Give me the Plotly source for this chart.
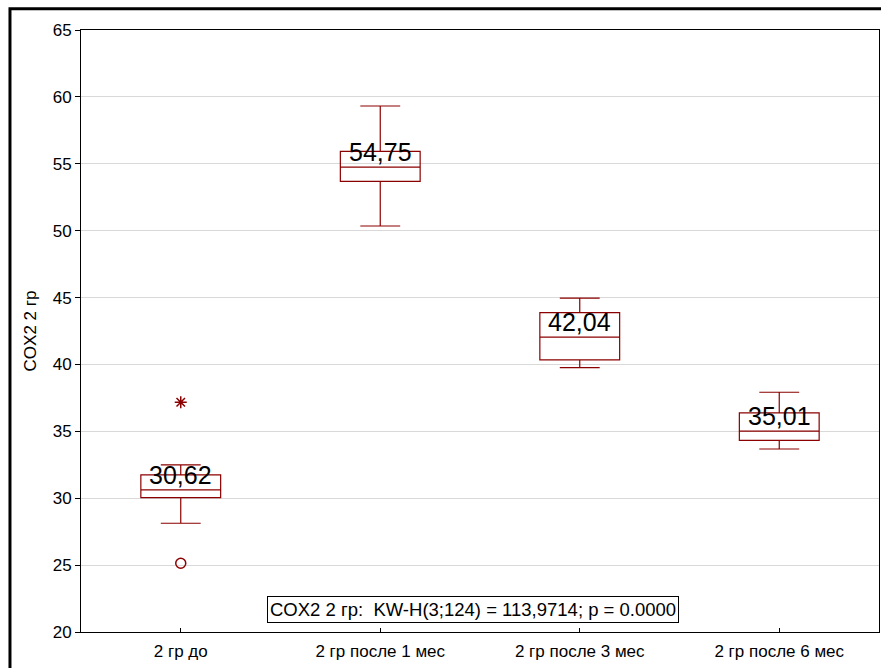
import plotly.graph_objects as go

# Groups and box statistics (COX2, group 2)
categories = ["2 гр до", "2 гр после 1 мес", "2 гр после 3 мес", "2 гр после 6 мес"]
medians = [30.62, 54.75, 42.04, 35.01]
q1 = [30.04, 53.69, 40.34, 34.33]
q3 = [31.74, 55.93, 43.87, 36.38]
whisker_low = [28.13, 50.35, 39.76, 33.68]
whisker_high = [32.49, 59.32, 44.95, 37.92]

# Points beyond the whiskers
outlier_x = ["2 гр до"]
outlier_y = [25.14]
extreme_x = ["2 гр до"]
extreme_y = [37.18]

y_ticks = [20, 25, 30, 35, 40, 45, 50, 55, 60, 65]
stat_text = "COX2 2 гр:  KW-H(3;124) = 113,9714; p = 0.0000"
y_title = "COX2 2 гр"

BOX_COLOR = "#8b0000"
FONT = "Arial, Liberation Sans, sans-serif"

fig = go.Figure()

fig.add_trace(go.Box(
    x=categories,
    q1=q1, median=medians, q3=q3,
    lowerfence=whisker_low, upperfence=whisker_high,
    boxpoints=False,
    line=dict(color=BOX_COLOR, width=1.2),
    fillcolor="rgba(0,0,0,0)",
    width=0.4,
    whiskerwidth=0.5,
    showlegend=False,
    hoverinfo="skip",
))

fig.add_trace(go.Scatter(
    x=outlier_x, y=outlier_y, mode="markers",
    marker=dict(symbol="circle-open", size=10, color=BOX_COLOR,
                line=dict(width=1.5, color=BOX_COLOR)),
    showlegend=False,
))
fig.add_trace(go.Scatter(
    x=extreme_x, y=extreme_y, mode="markers",
    marker=dict(symbol="asterisk-open", size=10, color=BOX_COLOR,
                line=dict(width=1.5, color=BOX_COLOR)),
    showlegend=False,
))

# Median value labels above the median line
for cat, med in zip(categories, medians):
    fig.add_annotation(
        x=cat, y=med, xref="x", yref="y",
        text=f"{med:.2f}".replace(".", ","),
        showarrow=False, yanchor="middle", yshift=15,
        font=dict(family=FONT, size=25, color="black"),
    )

# Kruskal-Wallis result box
fig.add_annotation(
    x=0.491, y=0.038, xref="paper", yref="paper",
    text=stat_text, showarrow=False,
    xanchor="center", yanchor="middle",
    font=dict(family=FONT, size=18.5, color="black"),
    bordercolor="black", borderwidth=1, borderpad=2,
    bgcolor="white",
)

# Outer frame around the figure (left and top edges)
fig.add_shape(
    type="path", xref="paper", yref="paper",
    path="M -0.089 -0.2 L -0.089 1.0355 L 1.2 1.0355",
    line=dict(color="black", width=3),
)

fig.update_layout(
    width=881, height=668,
    margin=dict(l=81, r=2, t=30, b=36),
    paper_bgcolor="white", plot_bgcolor="white",
    font=dict(family=FONT, size=17, color="black"),
    showlegend=False,
    xaxis=dict(
        type="category", categoryorder="array", categoryarray=categories,
        range=[-0.5, 3.5],
        showline=True, linecolor="black", linewidth=1, mirror=True,
        ticks="inside", ticklen=4, tickcolor="black",
        showgrid=False, zeroline=False,
        ticklabelstandoff=4,
        tickfont=dict(family=FONT, size=17),
    ),
    yaxis=dict(
        range=[20, 65], tickvals=y_ticks,
        showline=True, linecolor="black", linewidth=1, mirror=True,
        ticks="outside", ticklen=5, tickcolor="black",
        showgrid=True, gridcolor="#d9d9d9", gridwidth=1,
        zeroline=False,
        title=dict(text=y_title, font=dict(family=FONT, size=17), standoff=11),
        tickfont=dict(family=FONT, size=17),
    ),
)

fig.write_html("out.html")
